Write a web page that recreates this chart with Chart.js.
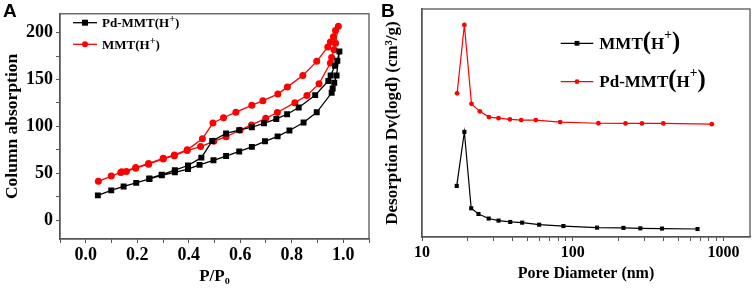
<!DOCTYPE html>
<html>
<head>
<meta charset="utf-8">
<script src="https://cdn.jsdelivr.net/npm/chart.js@4.4.0/dist/chart.umd.min.js"></script>
<style>
  body { margin: 0; background: #fff; width: 754px; height: 291px; position: relative; overflow: hidden; }
  #wrapA { position: absolute; left: 0; top: 0; width: 380px; height: 291px; }
  #wrapB { position: absolute; left: 380px; top: 0; width: 374px; height: 291px; }
  .tag { position: absolute; top: 1px; font: bold 19px 'Liberation Sans', Arial, sans-serif; line-height: 19px; }
</style>
</head>
<body>
<div id="wrapA"><canvas id="chartA" width="380" height="291"></canvas></div>
<div id="wrapB"><canvas id="chartB" width="374" height="291"></canvas></div>
<div class="tag" style="left:3px">A</div>
<div class="tag" style="left:381px">B</div>
<script>
// Panel A - isotherms, adsorption branch then desorption branch
const pdMmtP = [0.047, 0.099, 0.147, 0.196, 0.247, 0.295, 0.346, 0.397, 0.442, 0.496, 0.545, 0.596, 0.645, 0.696, 0.745, 0.791, 0.846, 0.897, 0.955, 0.959, 0.965, 0.974, 0.985,
                0.977, 0.968, 0.951, 0.942, 0.891, 0.827, 0.782, 0.740, 0.692, 0.645, 0.596, 0.545, 0.491, 0.449, 0.397, 0.346, 0.295, 0.247];
const pdMmtV = [26.5, 31.8, 36.0, 39.8, 44.0, 47.8, 51.0, 54.5, 59.0, 63.9, 68.4, 73.3, 78.2, 84.1, 89.4, 95.6, 104.2, 115.0, 135.8, 140.3, 146.6, 154.2, 179.8,
                170.0, 164.7, 154.2, 148.4, 133.3, 120.1, 113.0, 107.9, 103.3, 99.1, 96.0, 92.5, 84.5, 66.7, 58.3, 53.4, 48.5, 44.5];
const mmtP = [0.049, 0.099, 0.136, 0.158, 0.194, 0.244, 0.301, 0.344, 0.394, 0.446, 0.497, 0.545, 0.599, 0.644, 0.699, 0.744, 0.812, 0.859, 0.906, 0.950, 0.955, 0.964, 0.970, 0.981,
              0.970, 0.962, 0.950, 0.940, 0.897, 0.843, 0.783, 0.746, 0.688, 0.645, 0.583, 0.535, 0.494, 0.453, 0.394, 0.344, 0.301, 0.244, 0.194, 0.140];
const mmtV = [41.5, 47.1, 51.0, 52.0, 55.5, 59.7, 65.3, 68.8, 74.3, 78.5, 84.1, 89.0, 96.0, 101.6, 108.6, 114.8, 125.3, 133.0, 145.5, 167.5, 173.5, 181.8, 188.5, 206.6,
              202.1, 195.5, 190.0, 184.6, 169.3, 154.2, 142.1, 134.4, 127.4, 122.5, 115.2, 109.2, 103.7, 86.9, 75.0, 69.6, 66.0, 60.5, 56.2, 51.6];

// Panel B - pore size distribution (arbitrary units)
const poreMmt = [17.0, 19.1, 21.2, 23.7, 27.7, 32.2, 38.5, 46.2, 59.9, 86.7, 145, 217, 281, 391, 673];
const dvMmt = [22.4, 46.1, 12.6, 10.1, 8.1, 7.2, 6.6, 6.3, 5.4, 4.8, 4.1, 4.0, 3.8, 3.7, 3.5];
const porePd = [17.1, 19.1, 21.3, 24.2, 27.8, 32.2, 38.3, 45.5, 56.9, 82.6, 148, 224, 288, 399, 837];
const dvPd = [63.0, 93.0, 58.4, 55.1, 52.6, 52.1, 51.6, 51.3, 51.3, 50.4, 49.9, 49.8, 49.8, 49.8, 49.5];

// ticks
const xTicksA = [-0.1, 0, 0.1, 0.2, 0.3, 0.4, 0.5, 0.6, 0.7, 0.8, 0.9, 1.0, 1.1];
const xLabelsA = ['0.0', '0.2', '0.4', '0.6', '0.8', '1.0'];
const yTicksA = [0, 25, 50, 75, 100, 125, 150, 175, 200];
const yLabelsA = ['0', '50', '100', '150', '200'];
const xTicksB = [10, 20, 30, 40, 50, 60, 70, 80, 90, 100, 200, 300, 400, 500, 600, 700, 800, 900, 1000];
const xLabelsB = ['10', '100', '1000'];

const namesA = ['Pd-MMT(H+)', 'MMT(H+)'];
const namesB = ['MMT(H+)', 'Pd-MMT(H+)'];

const SERIF = "'Liberation Serif', 'Times New Roman', serif";
const RED = '#ff0000';
const BLACK = '#000000';
const AXIS = '#555555';

Chart.defaults.font.family = SERIF;
Chart.defaults.color = '#000';

const toPts = (xs, ys) => xs.map((x, i) => ({ x: x, y: ys[i] }));
const pickLabel = (labels, v) => {
  const l = labels.find(s => Math.abs(parseFloat(s) - v) < 1e-6);
  return l === undefined ? '' : l;
};

// text like "MMT(H+)" with the + raised
function drawLabel(ctx, label, x, y, size, big) {
  const m = label.match(/^(.*)\((.*)\+\)$/);
  const parts = big
    ? [[m[1], size, 0], ['(', size * 1.45, 0], [m[2], size, 0], ['+', size * 0.8, -size * 0.58], [')', size * 1.45, 0]]
    : [[m[1] + '(' + m[2], size, 0], ['+', size * 0.8, -size * 0.35], [')', size, 0]];
  ctx.textBaseline = 'alphabetic';
  ctx.textAlign = 'left';
  ctx.fillStyle = '#000';
  let cx = x;
  const base = y + size * 0.33;
  parts.forEach(([t, s, dy]) => {
    ctx.font = 'bold ' + s + 'px ' + SERIF;
    ctx.fillText(t, cx, base + dy);
    cx += ctx.measureText(t).width;
  });
}

const frameLegend = {
  id: 'frameLegend',
  afterDraw(chart, args, opts) {
    const ctx = chart.ctx;
    const a = chart.chartArea;
    ctx.save();
    ctx.strokeStyle = AXIS;
    ctx.lineWidth = 1.3;
    ctx.strokeRect(a.left, a.top, a.right - a.left, a.bottom - a.top);

    chart.data.datasets.forEach((ds, i) => {
      const y = opts.y + i * opts.dy;
      ctx.strokeStyle = ds.borderColor;
      ctx.lineWidth = ds.borderWidth;
      ctx.beginPath();
      ctx.moveTo(opts.x, y);
      ctx.lineTo(opts.x + opts.len, y);
      ctx.stroke();
      ctx.fillStyle = ds.backgroundColor;
      const cx = opts.x + opts.len / 2;
      const r = opts.marker;
      ctx.beginPath();
      if (ds.pointStyle === 'rect') ctx.rect(cx - r, y - r, 2 * r, 2 * r);
      else ctx.arc(cx, y, r, 0, Math.PI * 2);
      ctx.fill();
      drawLabel(ctx, ds.label, opts.x + opts.len + opts.gap, y, opts.size, opts.big);
    });
    ctx.restore();
  }
};

const tickFont = { family: SERIF, weight: 'bold', size: 18 };
const titleFont = { family: SERIF, weight: 'bold', size: 17 };

// ---------- Panel A ----------
new Chart(document.getElementById('chartA').getContext('2d'), {
  type: 'scatter',
  data: {
    datasets: [
      {
        label: namesA[0],
        data: toPts(pdMmtP, pdMmtV),
        showLine: true,
        borderColor: BLACK,
        backgroundColor: BLACK,
        borderWidth: 1.3,
        pointStyle: 'rect',
        pointRadius: 4.2,
        pointBorderWidth: 0
      },
      {
        label: namesA[1],
        data: toPts(mmtP, mmtV),
        showLine: true,
        borderColor: RED,
        backgroundColor: RED,
        borderWidth: 1.3,
        pointStyle: 'circle',
        pointRadius: 3.5,
        pointBorderWidth: 0
      }
    ]
  },
  options: {
    responsive: false,
    animation: false,
    layout: { padding: { top: 9, right: 11, left: 0, bottom: 0 } },
    scales: {
      x: {
        type: 'linear',
        min: -0.1,
        max: 1.1,
        afterBuildTicks: s => { s.ticks = xTicksA.map(v => ({ value: v })); },
        afterFit: s => { s.height = 52; },
        grid: { drawOnChartArea: false, drawTicks: true, tickLength: 4, color: AXIS },
        border: { display: true, color: AXIS, width: 1.3 },
        ticks: { font: tickFont, padding: 2, maxRotation: 0, autoSkip: false, callback: v => pickLabel(xLabelsA, v) },
        title: { display: true, text: 'P/P₀', font: titleFont, padding: { top: 0, bottom: 4 } }
      },
      y: {
        type: 'linear',
        min: -20,
        max: 220,
        afterBuildTicks: s => { s.ticks = yTicksA.map(v => ({ value: v })); },
        afterFit: s => { s.width = 60; },
        grid: { drawOnChartArea: false, drawTicks: true, tickLength: 4, color: AXIS },
        border: { display: true, color: AXIS, width: 1.3 },
        ticks: { font: tickFont, padding: 3, autoSkip: false, callback: v => pickLabel(yLabelsA, v) },
        title: { display: true, text: 'Column absorption', font: { family: SERIF, weight: 'bold', size: 17.5 }, padding: { top: 2, bottom: 0 } }
      }
    },
    plugins: {
      legend: { display: false },
      tooltip: { enabled: false },
      frameLegend: { x: 73, y: 22.7, dy: 21.6, len: 24, gap: 5, size: 13, big: false, marker: 3 }
    }
  },
  plugins: [frameLegend]
});

// ---------- Panel B ----------
new Chart(document.getElementById('chartB').getContext('2d'), {
  type: 'scatter',
  data: {
    datasets: [
      {
        label: namesB[0],
        data: toPts(poreMmt, dvMmt),
        showLine: true,
        borderColor: BLACK,
        backgroundColor: BLACK,
        borderWidth: 1.2,
        pointStyle: 'rect',
        pointRadius: 2.9,
        pointBorderWidth: 0
      },
      {
        label: namesB[1],
        data: toPts(porePd, dvPd),
        showLine: true,
        borderColor: RED,
        backgroundColor: RED,
        borderWidth: 1.2,
        pointStyle: 'circle',
        pointRadius: 2.4,
        pointBorderWidth: 0
      }
    ]
  },
  options: {
    responsive: false,
    animation: false,
    layout: { padding: { top: 9, right: 2, left: 0, bottom: 0 } },
    scales: {
      x: {
        type: 'logarithmic',
        min: 10,
        max: 1500,
        afterBuildTicks: s => { s.ticks = xTicksB.map(v => ({ value: v })); },
        afterFit: s => { s.height = 54; },
        grid: { drawOnChartArea: false, drawTicks: true, tickLength: 4, color: AXIS },
        border: { display: true, color: AXIS, width: 1.3 },
        ticks: { font: { family: SERIF, weight: 'bold', size: 16 }, padding: 2, maxRotation: 0, autoSkip: false, callback: v => pickLabel(xLabelsB, v) },
        title: { display: true, text: 'Pore Diameter (nm)', font: { family: SERIF, weight: 'bold', size: 16 }, padding: { top: 0, bottom: 8 } }
      },
      y: {
        type: 'linear',
        min: 0,
        max: 100,
        afterFit: s => { s.width = 42; },
        grid: { drawOnChartArea: false, drawTicks: false },
        border: { display: true, color: AXIS, width: 1.3 },
        ticks: { display: false },
        title: { display: true, text: 'Desorption Dv(logd) (cm³/g)', font: titleFont, padding: { top: 2, bottom: 0 } }
      }
    },
    plugins: {
      legend: { display: false },
      tooltip: { enabled: false },
      frameLegend: { x: 180.7, y: 43.3, dy: 38.4, len: 32.6, gap: 6, size: 17, big: true, marker: 2.4 }
    }
  },
  plugins: [frameLegend]
});
</script>
</body>
</html>
